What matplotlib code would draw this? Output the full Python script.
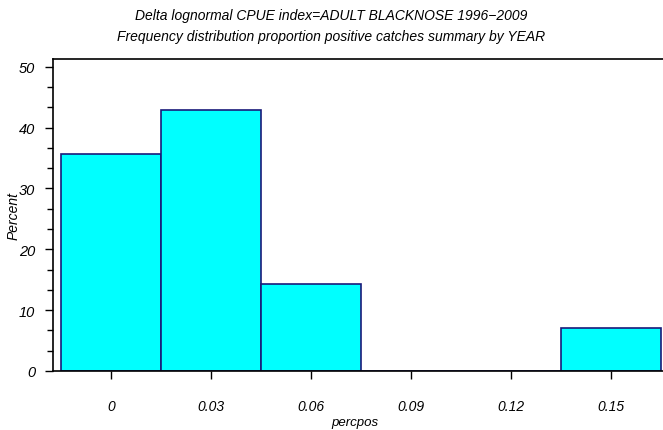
import matplotlib
matplotlib.use("Agg")
import matplotlib.pyplot as plt
from matplotlib.ticker import MultipleLocator

# Histogram of proportion positive catches (14 years)
bin_centers = [0.0, 0.03, 0.06, 0.09, 0.12, 0.15]
percent = [35.71, 42.86, 14.29, 0.0, 0.0, 7.14]
bin_width = 0.03
x_ticks = [0.0, 0.03, 0.06, 0.09, 0.12, 0.15]
x_tick_labels = ["0", "0.03", "0.06", "0.09", "0.12", "0.15"]
y_ticks = [0, 10, 20, 30, 40, 50]

plt.rcParams['font.family'] = ['Liberation Sans', 'DejaVu Sans']

fig = plt.figure(figsize=(6.63, 4.31), dpi=100)
ax = fig.add_axes([0.080, 0.137, 0.92, 0.724])

ax.bar(bin_centers, percent, width=bin_width, color='#00FFFF',
       edgecolor='#1a1a7a', linewidth=1.2, zorder=2)

ax.set_xlim(-0.0173, 0.1655)
ax.set_ylim(0, 51.3)

ax.set_xticks(x_ticks)
ax.set_xticklabels(x_tick_labels, fontstyle='italic', fontsize=10)
ax.set_yticks(y_ticks)
ax.set_yticklabels([str(v) for v in y_ticks], fontstyle='italic', fontsize=10.5)
ax.yaxis.set_minor_locator(MultipleLocator(10 / 3))

ax.tick_params(axis='both', which='major', direction='out', length=6, width=1, pad=7)
ax.tick_params(axis='y', which='minor', direction='out', length=4, width=1)
ax.tick_params(axis='x', which='major', pad=14)

for side in ['left', 'top', 'bottom']:
    ax.spines[side].set_linewidth(1.2)
ax.spines['right'].set_visible(False)

# axis titles placed in figure pixels to match the reference layout
fig.text(355 / 663, 1 - 423 / 431, 'percpos', ha='center', va='center',
         fontstyle='italic', fontsize=9.5)
fig.text(14 / 663, 1 - 216 / 431, 'Percent', ha='center', va='center',
         rotation=90, fontstyle='italic', fontsize=10)

fig.text(0.5, 0.963, 'Delta lognormal CPUE index=ADULT BLACKNOSE 1996\u22122009',
         ha='center', va='center', fontstyle='italic', fontsize=10)
fig.text(0.5, 0.914, 'Frequency distribution proportion positive catches summary by YEAR',
         ha='center', va='center', fontstyle='italic', fontsize=10)

fig.savefig('out.png', dpi=100)
